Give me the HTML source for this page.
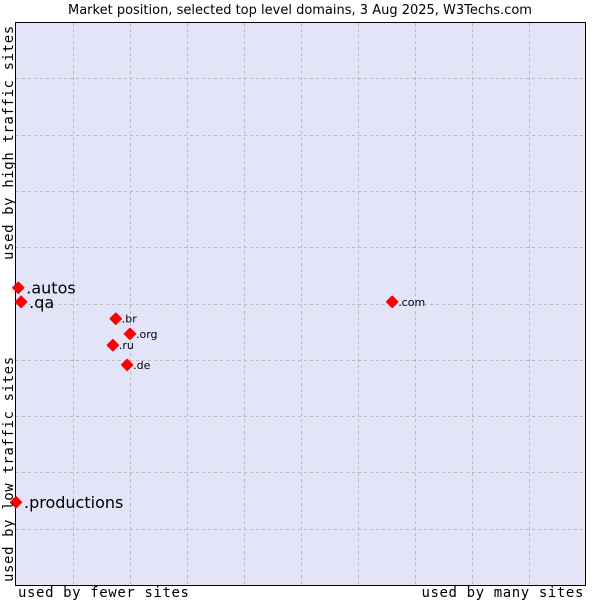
<!DOCTYPE html>
<html><head><meta charset="utf-8"><style>
body{margin:0;background:#fff;}
svg{display:block;font-family:"DejaVu Sans","Liberation Sans",sans-serif;}
.mono{font-family:"DejaVu Sans Mono","Liberation Mono",monospace;font-size:14px;letter-spacing:0.6px;fill:#000;}
</style></head><body>
<svg id="chart" width="600" height="600" viewBox="0 0 600 600">
<text x="300" y="14" text-anchor="middle" font-size="13">Market position, selected top level domains, 3 Aug 2025, W3Techs.com</text>
<rect x="15.5" y="22.5" width="570" height="563" fill="#e3e4f8" stroke="#000"/>
<g id="grid"></g>
<g id="marks"></g>
<text class="mono" x="18" y="597">used by fewer sites</text>
<text class="mono" x="584" y="597" text-anchor="end">used by many sites</text>
<text class="mono" transform="translate(13,582) rotate(-90)">used by low traffic sites</text>
<text class="mono" transform="translate(13,260) rotate(-90)">used by high traffic sites</text>
</svg>
<script>
const labels=[".autos",".qa",".br",".org",".ru",".de",".com",".productions"];
const xValues=[0.04,0.09,1.75,2.0,1.70,1.95,6.6,0.0];
const yValues=[5.28,5.03,4.73,4.46,4.26,3.91,5.03,1.47];
const bigLabel=[true,true,false,false,false,false,false,true];
const L=16,T=22,W=570,H=563;
const xs=v=>L+v/10*W, ys=v=>T+H-v/10*H;
const NS="http://www.w3.org/2000/svg";
const grid=document.getElementById('grid'), marks=document.getElementById('marks');
for(let i=1;i<10;i++){
 let l=document.createElementNS(NS,'line');
 
 
 const x=Math.round(xs(i))+0.5;
 l.setAttribute('x1',x);l.setAttribute('x2',x);l.setAttribute('y1',T+1);l.setAttribute('y2',T+H);
 l.setAttribute('stroke','#bbb');l.setAttribute('stroke-dasharray','3,3');grid.appendChild(l);
 let h=document.createElementNS(NS,'line');
 
 
 const y=Math.round(ys(i))+0.5;
 h.setAttribute('x1',L);h.setAttribute('x2',L+W);h.setAttribute('y1',y);h.setAttribute('y2',y);
 h.setAttribute('stroke','#bbb');h.setAttribute('stroke-dasharray','3,3');grid.appendChild(h);
}
labels.forEach((lab,i)=>{
 const x=xs(xValues[i]),y=ys(yValues[i]);
 const p=document.createElementNS(NS,'polygon');
 
 
 p.setAttribute('points',`${x},${y-5.5} ${x+5.5},${y} ${x},${y+5.5} ${x-5.5},${y}`);
 p.setAttribute('fill','#f00');p.setAttribute('stroke','#f00');p.setAttribute('stroke-linejoin','round');p.setAttribute('stroke-width','1.5');
 marks.appendChild(p);
 const t=document.createElementNS(NS,'text');
 
 
 t.setAttribute('x',x+(bigLabel[i]?8:6));
 t.setAttribute('y',y+(bigLabel[i]?6:4));
 t.setAttribute('font-size',bigLabel[i]?'16':'11');
 t.textContent=lab;marks.appendChild(t);
});
</script>
</body></html>
